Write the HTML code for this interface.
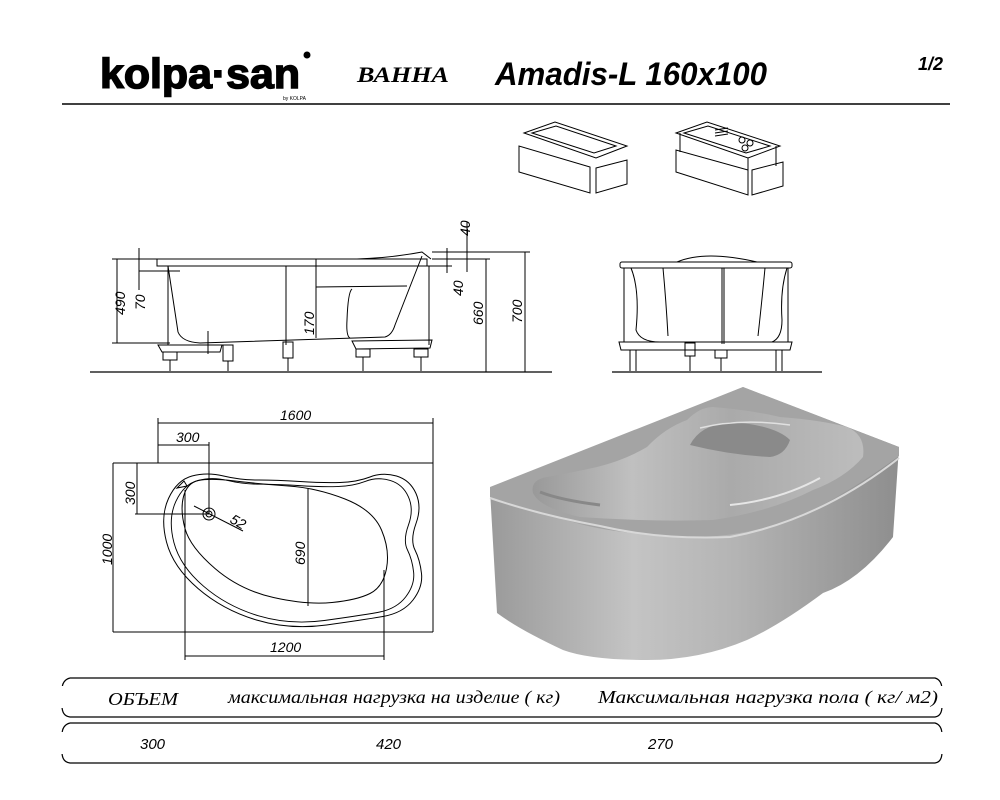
<!DOCTYPE html>
<html><head><meta charset="utf-8"><style>
html,body{margin:0;padding:0;background:#fff;}
svg{display:block}
</style></head><body>
<svg width="1000" height="800" viewBox="0 0 1000 800" xmlns="http://www.w3.org/2000/svg">
<defs>
<linearGradient id="apron" x1="0" x2="1" y1="0" y2="0">
<stop offset="0" stop-color="#9a9a9a"/><stop offset="0.35" stop-color="#c4c4c4"/><stop offset="0.6" stop-color="#b4b4b4"/><stop offset="1" stop-color="#8e8e8e"/></linearGradient>
<linearGradient id="basin" x1="0" x2="1" y1="0" y2="0">
<stop offset="0" stop-color="#999"/><stop offset="0.3" stop-color="#c0c0c0"/><stop offset="0.6" stop-color="#aaa"/><stop offset="1" stop-color="#bdbdbd"/></linearGradient>
</defs>
<!-- header -->
<text x="100" y="88" font-family="Liberation Sans, sans-serif" font-weight="bold" font-size="42" stroke="#000" stroke-width="1.5" textLength="200" lengthAdjust="spacingAndGlyphs">kolpa·san</text>
<circle cx="307" cy="55" r="3.5" fill="#000"/>
<text x="283" y="100" font-family="Liberation Sans, sans-serif" font-size="5">by KOLPA</text>
<text x="357" y="82" font-family="Liberation Serif, serif" font-style="italic" font-weight="bold" font-size="22" textLength="92" lengthAdjust="spacingAndGlyphs">ВАННА</text>
<text x="495" y="85" font-family="Liberation Sans, sans-serif" font-style="italic" font-weight="bold" font-size="32" textLength="272" lengthAdjust="spacingAndGlyphs">Amadis-L 160x100</text>
<text x="918" y="70" font-family="Liberation Sans, sans-serif" font-style="italic" font-weight="bold" font-size="18">1/2</text>
<line x1="62" y1="104" x2="950" y2="104" stroke="#000" stroke-width="1.5"/>

<!-- pictograms -->
<g fill="none" stroke="#000" stroke-width="1">
<path d="M524,133 L555,122 L627,146 L596,158 Z"/><path d="M532,133 L556,126 L616,146 L594,153 Z"/>
<path d="M519,146 L519,172 L590,193 L590,167 Z"/><path d="M596,168 L627,160 L627,184 L596,193 Z"/>
<path d="M676,133 L707,122 L780,146 L748,158 Z"/><path d="M684,133 L708,126 L770,146 L746,153 Z"/>
<path d="M676,150 L676,172 L748,195 L748,170 Z"/><path d="M752,170 L783,162 L783,186 L752,195 Z"/>
<line x1="680" y1="133" x2="680" y2="152"/><line x1="776" y1="146" x2="776" y2="166"/><line x1="748" y1="158" x2="748" y2="185"/>
<path d="M715,130 L728,128 M715,133 L728,131 M715,136 L728,134" /><circle cx="742" cy="140" r="3"/><circle cx="750" cy="143" r="3"/><circle cx="745" cy="148" r="3"/>
</g>

<!-- side view -->
<g fill="none" stroke="#000" stroke-width="1">
<line x1="90" y1="372" x2="552" y2="372" stroke-width="1.3"/>
<rect x="157" y="259" width="270" height="7"/>
<path d="M357,259 Q390,258 422,252 L431,259"/>
<path d="M168,266 L178,332 Q182,342 200,343 L385,337 Q392,335 395,325 L422,256"/>
<path d="M316,287 L407,286 M352,289 Q348,292 347,320 Q346,336 350,338"/>
<line x1="168" y1="266" x2="168" y2="345"/><line x1="286" y1="266" x2="286" y2="345"/><line x1="429" y1="266" x2="429" y2="345"/>
<path d="M158,345 L222,345 L220,352 L162,352 Z"/><path d="M352,341 L432,340 L430,348 L356,349 Z"/>
<rect x="163" y="352" width="14" height="8"/><line x1="170" y1="360" x2="170" y2="371"/>
<rect x="223" y="345" width="10" height="16"/><line x1="228" y1="361" x2="228" y2="371"/>
<rect x="283" y="342" width="10" height="16"/><line x1="288" y1="358" x2="288" y2="371"/>
<rect x="356" y="349" width="14" height="8"/><line x1="363" y1="357" x2="363" y2="371"/>
<rect x="414" y="349" width="14" height="8"/><line x1="421" y1="357" x2="421" y2="371"/>
<line x1="117" y1="259" x2="117" y2="343"/><line x1="112" y1="259" x2="157" y2="259"/><line x1="112" y1="343" x2="170" y2="343"/>
<line x1="139" y1="248" x2="139" y2="290"/><line x1="139" y1="271" x2="180" y2="271"/>
<line x1="316" y1="259" x2="316" y2="338"/>
<line x1="447" y1="248" x2="447" y2="273"/><line x1="427" y1="266" x2="452" y2="266"/>
<line x1="467" y1="222" x2="467" y2="272"/><line x1="432" y1="252" x2="530" y2="252"/><line x1="432" y1="259" x2="490" y2="259"/>
<line x1="486" y1="259" x2="486" y2="372"/>
<line x1="525" y1="252" x2="525" y2="372"/>
<line x1="208" y1="331" x2="208" y2="354"/>
</g>
<g font-family="Liberation Sans, sans-serif" font-style="italic" font-size="14" fill="#000">
<text transform="translate(125,315) rotate(-90)">490</text>
<text transform="translate(145,310) rotate(-90)">70</text>
<text transform="translate(314,335) rotate(-90)">170</text>
<text transform="translate(463,296) rotate(-90)">40</text>
<text transform="translate(470,236) rotate(-90)">40</text>
<text transform="translate(483,325) rotate(-90)">660</text>
<text transform="translate(522,323) rotate(-90)">700</text>
</g>

<!-- front view -->
<g fill="none" stroke="#000" stroke-width="1">
<line x1="612" y1="372" x2="822" y2="372" stroke-width="1.3"/>
<rect x="620" y="262" width="172" height="6" rx="2"/>
<path d="M677,262 Q705,250 757,262"/>
<path d="M631,268 Q640,290 636,330 Q640,342 660,342 L772,342 Q782,338 782,320 Q780,290 787,268"/>
<path d="M663,268 Q666,300 668,336 M765,268 Q762,300 758,336"/>
<line x1="624" y1="268" x2="624" y2="342"/><line x1="788" y1="268" x2="788" y2="342"/><line x1="722" y1="268" x2="722" y2="344"/><line x1="724" y1="268" x2="724" y2="344"/>
<path d="M619,342 L792,342 L790,350 L621,350 Z"/>
<line x1="630" y1="350" x2="630" y2="371"/><line x1="636" y1="350" x2="636" y2="371"/>
<rect x="685" y="343" width="10" height="13"/><line x1="690" y1="356" x2="690" y2="371"/>
<rect x="715" y="350" width="12" height="8"/><line x1="721" y1="358" x2="721" y2="371"/>
<line x1="776" y1="350" x2="776" y2="371"/><line x1="782" y1="350" x2="782" y2="371"/>
</g>

<!-- plan view -->
<g fill="none" stroke="#000" stroke-width="1">
<line x1="113" y1="463" x2="433" y2="463"/><line x1="433" y1="463" x2="433" y2="632"/><line x1="113" y1="632" x2="433" y2="632"/>
<line x1="158" y1="418" x2="158" y2="463"/><line x1="433" y1="418" x2="433" y2="463"/>
<line x1="158" y1="423" x2="433" y2="423"/>
<line x1="158" y1="445" x2="209" y2="445"/><line x1="209" y1="442" x2="209" y2="514"/>
<line x1="137" y1="463" x2="137" y2="514"/><line x1="135" y1="514" x2="209" y2="514"/>
<line x1="113" y1="463" x2="113" y2="632"/>
<line x1="185" y1="490" x2="185" y2="660"/><line x1="384" y1="570" x2="384" y2="660"/><line x1="185" y1="656" x2="384" y2="656"/>
<line x1="308" y1="489" x2="308" y2="606"/>
<path d="M192,476 Q207,472 223.5,476 Q240,480 258.5,480 Q277,480 300,481.5 Q323,483 340,482.5 Q357,482 370,477 Q383,472 396.5,476 Q410,480 416,493.5 Q422,507 416,523.5 Q410,540 415,550 Q420,560 421.5,573.5 Q423,587 413,600 Q403,613 383,616.5 Q363,620 326.5,625 Q290,630 256.5,620 Q223,610 198,588.5 Q173,567 166.5,542 Q160,517 168.5,498.5 Q177,480 192,476 Z"/>
<path transform="translate(290,550) scale(0.94) translate(-290,-550)" d="M192,476 Q207,472 223.5,476 Q240,480 258.5,480 Q277,480 300,481.5 Q323,483 340,482.5 Q357,482 370,477 Q383,472 396.5,476 Q410,480 416,493.5 Q422,507 416,523.5 Q410,540 415,550 Q420,560 421.5,573.5 Q423,587 413,600 Q403,613 383,616.5 Q363,620 326.5,625 Q290,630 256.5,620 Q223,610 198,588.5 Q173,567 166.5,542 Q160,517 168.5,498.5 Q177,480 192,476 Z"/>
<path d="M198.5,480.5 Q210,478 235,481 Q260,484 288.5,486 Q317,488 345,499 Q373,510 381.5,530 Q390,550 386.5,568.5 Q383,587 370,593.5 Q357,600 332,602.5 Q307,605 273.5,597.5 Q240,590 215,568.5 Q190,547 185,528.5 Q180,510 183.5,496.5 Q187,483 198.5,480.5 Z"/>
<circle cx="209" cy="514" r="6"/><circle cx="209" cy="514" r="3"/>
<line x1="194" y1="506" x2="243" y2="531"/>
<path d="M177,488 L184,481 L187,486 Z"/>
</g>
<g font-family="Liberation Sans, sans-serif" font-style="italic" font-size="14" fill="#000">
<text x="280" y="420">1600</text>
<text x="176" y="442">300</text>
<text transform="translate(135,505) rotate(-90)">300</text>
<text transform="translate(112,565) rotate(-90)">1000</text>
<text transform="translate(305,565) rotate(-90)">690</text>
<text x="270" y="652">1200</text>
<text transform="translate(229,522) rotate(30)">52</text>
</g>

<!-- 3D render -->
<path d="M490,490 L743,387 L899,447 L893,537 Q860,580 823,593 Q780,625 747,640 Q700,660 647,660 Q590,660 563,650 Q520,630 497,613 Z" fill="url(#apron)"/>
<path d="M490,487 L743,387 L899,447 L899,456 Q860,485 813,510 Q760,535 700,537 Q620,535 580,524 Q530,510 490,497 Z" fill="#a4a4a4"/>
<path d="M490,498 Q540,515 600,526 Q660,540 730,537 Q820,520 899,458" fill="none" stroke="#d8d8d8" stroke-width="2"/>
<path d="M533,493 Q530,480 547,477 Q575,472 597,467 Q625,460 647,447 Q665,428 687,420 Q700,407 713,407 Q750,410 780,417 Q820,420 847,427 Q866,435 863,457 Q845,478 813,490 Q770,512 713,520 Q650,522 580,517 Q540,508 533,493 Z" fill="url(#basin)"/>
<path d="M690,445 Q700,425 730,422 Q775,425 790,440 Q785,455 770,457 Q730,455 690,445 Z" fill="#8a8a8a"/>
<path d="M540,492 Q560,500 600,505" stroke="#888" stroke-width="3" fill="none"/>
<path d="M730,505 Q780,500 820,478" stroke="#e6e6e6" stroke-width="2" fill="none"/>
<path d="M700,428 Q740,418 790,425" stroke="#e0e0e0" stroke-width="1.5" fill="none"/>

<!-- table -->
<g fill="none" stroke="#000" stroke-width="1.2">
<path d="M70,678 L935,678 Q942,680 942,690 L942,706 Q942,716 935,717 L70,717 Q62,716 62,706 L62,690 Q62,680 70,678"/>
<path d="M70,723 L935,723 Q942,725 942,735 L942,752 Q942,762 935,763 L70,763 Q62,762 62,752 L62,735 Q62,725 70,723"/>
</g>
<rect x="56" y="686" width="8" height="22" fill="#fff"/><rect x="940" y="686" width="8" height="22" fill="#fff"/>
<rect x="56" y="732" width="8" height="22" fill="#fff"/><rect x="940" y="732" width="8" height="22" fill="#fff"/>
<g font-family="Liberation Serif, serif" font-style="italic" font-size="18" fill="#000">
<text x="108" y="705" textLength="70" lengthAdjust="spacingAndGlyphs">ОБЪЕМ</text>
<text x="228" y="703" textLength="332" lengthAdjust="spacingAndGlyphs">максимальная нагрузка на изделие ( кг)</text>
<text x="598" y="703" textLength="340" lengthAdjust="spacingAndGlyphs">Максимальная нагрузка пола ( кг/ м2)</text>
</g>
<g font-family="Liberation Sans, sans-serif" font-style="italic" font-size="15" fill="#000">
<text x="140" y="749">300</text><text x="376" y="749">420</text><text x="648" y="749">270</text>
</g>
</svg>
</body></html>
